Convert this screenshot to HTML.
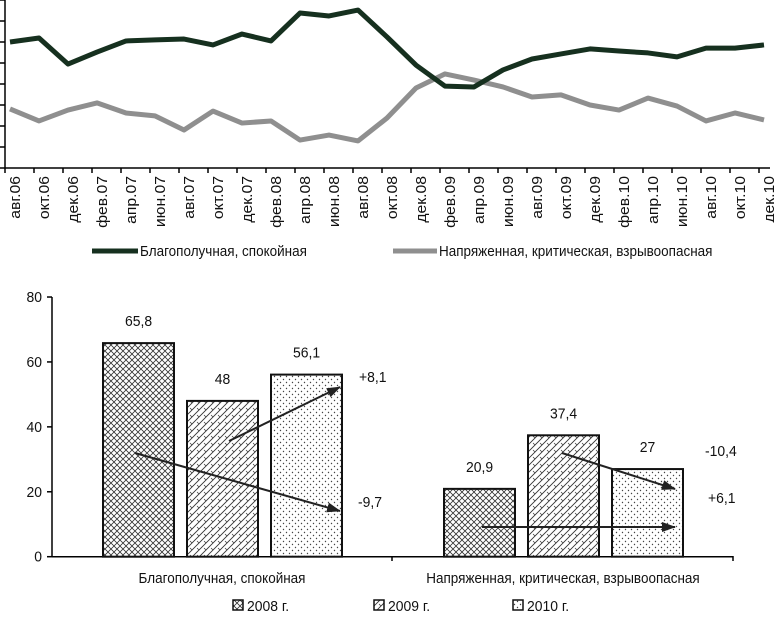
<!DOCTYPE html>
<html><head><meta charset="utf-8"><style>
body{margin:0;background:#fff;width:774px;height:628px;overflow:hidden}
svg{font-family:"Liberation Sans",sans-serif}
</style></head><body>
<svg id="c" width="774" height="628" viewBox="0 0 774 628" xmlns="http://www.w3.org/2000/svg">
<defs>
<pattern id="p08" width="6" height="6" patternUnits="userSpaceOnUse"><rect width="6" height="6" fill="#fff"/><path d="M0,0L6,6M6,0L0,6" stroke="#333" stroke-width="0.8"/></pattern>
<pattern id="p09" width="7" height="7" patternUnits="userSpaceOnUse"><rect width="7" height="7" fill="#fff"/><path d="M0,7L7,0M-1,1L1,-1M6,8L8,6" stroke="#333" stroke-width="0.9"/><path d="M1,2L3,4" stroke="#333" stroke-width="0.7"/></pattern>
<pattern id="p10" width="6" height="6" patternUnits="userSpaceOnUse"><rect width="6" height="6" fill="#fff"/><circle cx="1.5" cy="1.5" r="0.7" fill="#444"/><circle cx="4.5" cy="4.5" r="0.7" fill="#444"/></pattern>
<marker id="ah" markerWidth="14" markerHeight="10" refX="13" refY="5" orient="auto" markerUnits="userSpaceOnUse"><path d="M0,0L14,5L0,10z" fill="#222"/></marker>
</defs>
<g id="top"></g>
<g id="bot"></g>
</svg>
<script>
const months=["авг.06","окт.06","дек.06","фев.07","апр.07","июн.07","авг.07","окт.07","дек.07","фев.08","апр.08","июн.08","авг.08","окт.08","дек.08","фев.09","апр.09","июн.09","авг.09","окт.09","дек.09","фев.10","апр.10","июн.10","авг.10","окт.10","дек.10"];
const calm=[60,61.9,49.5,55.2,60.5,61,61.4,58.6,63.8,60.5,73.8,72.4,75.2,62.4,49,39,38.6,46.7,51.9,54.3,56.7,55.7,54.8,52.9,57.1,57.1,58.6];
const tense=[28.1,22.4,27.6,31,26.2,24.8,18.1,27.1,21.4,22.4,13.3,15.7,12.9,23.8,38.1,44.8,41.9,38.6,33.8,34.8,30,27.6,33.3,29.5,22.4,26.2,22.9];
const groups=["Благополучная, спокойная","Напряженная, критическая, взрывоопасная"];
const years=["2008 г.","2009 г.","2010 г."];
const v2008=[65.8,20.9];
const v2009=[48,37.4];
const v2010=[56.1,27];
const deltas=["+8,1","-9,7","-10,4","+6,1"];
const NS="http://www.w3.org/2000/svg";
function mk(p,t,a,txt){const e=document.createElementNS(NS,t);for(const k in a)e.setAttribute(k,a[k]);if(txt!==undefined)e.textContent=txt;p.appendChild(e);return e;}
function tx2(p,x,y,s,size,anchor){return mk(p,'text',{x:0,y:0,transform:`translate(${x},${y}) scale(0.93,1)`,'font-size':size,'text-anchor':anchor||'start',fill:'#111'},s);}
const gTop=document.getElementById('top'),gBot=document.getElementById('bot');
const tx=i=>10+i*29.0, ty=v=>168-v*2.1;
let e=mk(gTop,'line',{x1:5,y1:0,x2:5,y2:168,stroke:'#000','stroke-width':1.5});


for(let k=0;k<=8;k++){mk(gTop,'line',{x1:0,x2:5,y1:168-k*21,y2:168-k*21,stroke:'#000','stroke-width':1.5});}
e=mk(gTop,'line',{x1:5,y1:168,x2:770,y2:168,stroke:'#000','stroke-width':1.5});


months.forEach((m,i)=>{const x=5+i*29.0;mk(gTop,'line',{x1:x,x2:x,y1:168,y2:173,stroke:'#000','stroke-width':1.5});
 const t=mk(gTop,'text',{x:0,y:0,transform:`translate(${x+15},176) rotate(-90) scale(1.05,1)`,'text-anchor':'end','font-size':15,fill:'#111'},m);
 
 });
function poly(arr,col,name){const p=mk(gTop,'polyline',{points:arr.map((v,i)=>tx(i)+','+ty(v)).join(' '),fill:'none',stroke:col,'stroke-width':5,'stroke-linejoin':'round'});
 
 }
poly(tense,'#8f8f8f','tense-line');poly(calm,'#16301f','calm-line');
e=mk(gTop,'line',{x1:92,x2:138,y1:251,y2:251,stroke:'#16301f','stroke-width':5});


e=tx2(gTop,140,256,groups[0],14.5);


e=mk(gTop,'line',{x1:393,x2:437,y1:251,y2:251,stroke:'#8f8f8f','stroke-width':5});


e=tx2(gTop,439,256,groups[1],14.5);


const by=v=>556.7-v*3.246;
e=mk(gBot,'line',{x1:52,x2:52,y1:297,y2:557,stroke:'#000','stroke-width':1.5});


for(let k=0;k<=4;k++){const y=by(k*20);mk(gBot,'line',{x1:47,x2:52,y1:y,y2:y,stroke:'#000','stroke-width':1.5});
 const t=tx2(gBot,42,y+5,String(k*20),15,'end');
 
 }
e=mk(gBot,'line',{x1:52,x2:733,y1:556.7,y2:556.7,stroke:'#000','stroke-width':1.5});


[392,733].forEach(x=>mk(gBot,'line',{x1:x,x2:x,y1:556,y2:561,stroke:'#000','stroke-width':1.5}));
const gx=[103,444],bw=71,step=84;
const series=[v2008,v2009,v2010],pats=['url(#p08)','url(#p09)','url(#p10)'];
groups.forEach((g,gi)=>{
 series.forEach((s,si)=>{const x=gx[gi]+si*step,y=by(s[gi]);
  const r=mk(gBot,'rect',{x:x,y:y,width:bw,height:556.7-y,fill:pats[si],stroke:'#111','stroke-width':2});
  
  
  const t=tx2(gBot,x+bw/2,y-17,String(s[gi]).replace('.',','),15,'middle');
  
  });
 const t=tx2(gBot,gi?563:222,583,g,14.5,'middle');
 
 
});
const arrows=[[229,441,340,387],[135,453,340,511],[562,453,675,489],[482,527,675,527]];
arrows.forEach(a=>{const l=mk(gBot,'line',{x1:a[0],y1:a[1],x2:a[2],y2:a[3],stroke:'#222','stroke-width':2,'marker-end':'url(#ah)'});
 
 });
const dpos=[[359,382],[358,507],[705,456],[708,503]];
deltas.forEach((d,i)=>{const t=tx2(gBot,dpos[i][0],dpos[i][1],d,15);
 
 });
const lx=[233,374,513];
years.forEach((yv,i)=>{const r=mk(gBot,'rect',{x:lx[i],y:600,width:10,height:10,fill:pats[i],stroke:'#111','stroke-width':1.5});
 
 
 const t=tx2(gBot,lx[i]+14,611,yv,15);
 
 });
</script>
</body></html>
